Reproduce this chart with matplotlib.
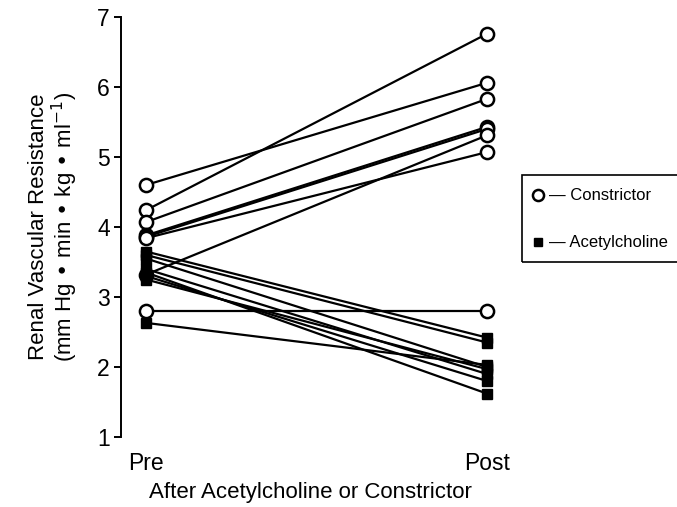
import matplotlib
matplotlib.use("Agg")
import matplotlib.pyplot as plt
from matplotlib.lines import Line2D
from matplotlib.patches import Rectangle

plt.rcParams['font.family'] = ['Liberation Sans', 'DejaVu Sans']

# Data
x_labels = ["Pre", "Post"]
constrictor_pre = [4.60, 4.24, 4.07, 3.88, 3.86, 3.84, 3.32, 2.80]
constrictor_post = [6.06, 6.76, 5.83, 5.43, 5.40, 5.07, 5.31, 2.80]
ach_pre = [3.65, 3.60, 3.55, 3.40, 3.35, 3.30, 3.25, 2.63]
ach_post = [2.42, 2.35, 2.00, 1.90, 1.62, 1.80, 1.97, 2.03]
y_ticks = [1, 2, 3, 4, 5, 6, 7]

fig = plt.figure(figsize=(6.77, 5.07), dpi=100)
ax = fig.add_axes([121/677, 70/507, 379/677, 420/507])

xs = [0, 1]
for a, b in zip(constrictor_pre, constrictor_post):
    ax.plot(xs, [a, b], color='black', lw=1.6, marker='o', markersize=9.5,
            markerfacecolor='white', markeredgecolor='black', markeredgewidth=1.8, zorder=3)
for a, b in zip(ach_pre, ach_post):
    ax.plot(xs, [a, b], color='black', lw=1.6, marker='s', markersize=7.5,
            markerfacecolor='black', markeredgecolor='black', zorder=4)

ax.set_xlim(-25/341, 354/341)
ax.set_ylim(1, 7)
ax.set_yticks(y_ticks)
ax.set_yticklabels([str(t) for t in y_ticks], fontsize=16.5)
ax.set_xticks(xs)
ax.set_xticklabels(x_labels, fontsize=16.5)
ax.tick_params(axis='x', length=0, pad=11)
ax.tick_params(axis='y', direction='out', length=5, width=1.4, pad=3)
for s in ['top', 'right', 'bottom']:
    ax.spines[s].set_visible(False)
ax.spines['left'].set_linewidth(1.4)

ax.set_xlabel("After Acetylcholine or Constrictor", fontsize=16, labelpad=5)
ax.set_ylabel("Renal Vascular Resistance\n(mm Hg \u2022 min \u2022 kg \u2022 ml$^{-1}$)",
              fontsize=16, labelpad=12, linespacing=1.05)

# Legend box (manual)
W, H = 677, 507
rect = Rectangle((522/W, (H-262)/H), 200/W, 87/H, transform=fig.transFigure,
                 fill=False, edgecolor='black', lw=1.2, clip_on=False)
fig.add_artist(rect)
fig.add_artist(Line2D([538/W], [(H-195)/H], transform=fig.transFigure, marker='o',
                      markersize=8, markerfacecolor='white', markeredgecolor='black',
                      markeredgewidth=1.8, linestyle='none'))
fig.text(549/W, (H-195)/H, "\u2014 Constrictor", fontsize=12, va='center', ha='left')
fig.add_artist(Line2D([538/W], [(H-242)/H], transform=fig.transFigure, marker='s',
                      markersize=6, markerfacecolor='black', markeredgecolor='black',
                      linestyle='none'))
fig.text(549/W, (H-242)/H, "\u2014 Acetylcholine", fontsize=12, va='center', ha='left')

fig.savefig("out.png", dpi=100)
